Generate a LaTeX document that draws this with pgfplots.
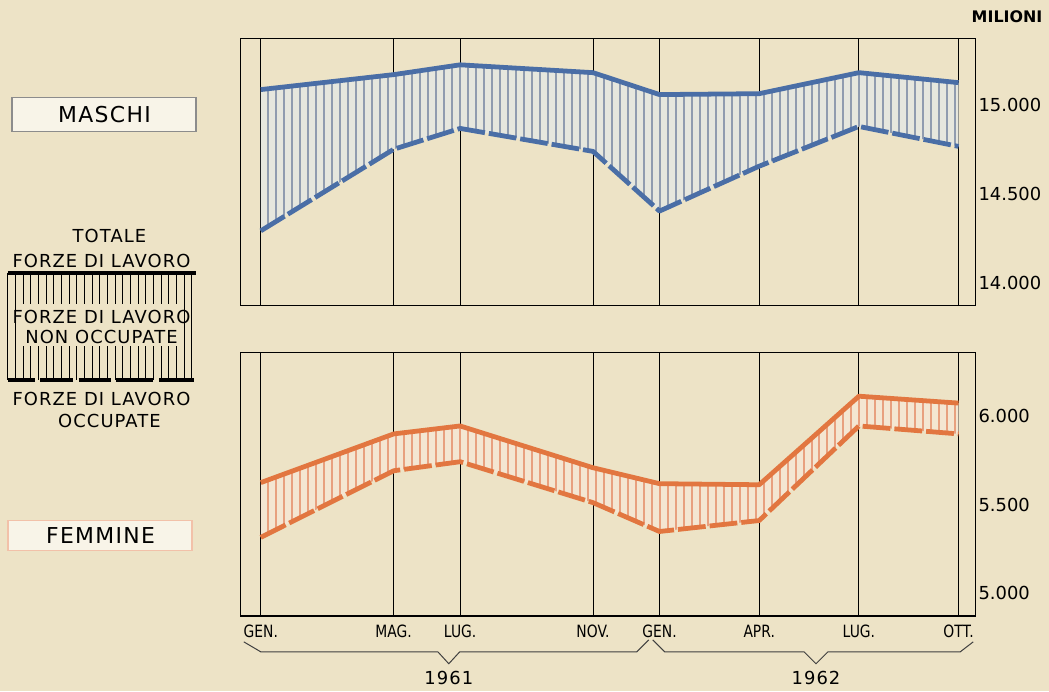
\documentclass[border=0pt]{standalone}
\usepackage{fontspec}
\setmainfont{DejaVu Sans}
\newfontfamily\lettering[LetterSpace=6]{DejaVu Sans}
\newfontfamily\narrow[FakeStretch=0.82]{DejaVu Sans}
\usepackage{pgfplots}
\pgfplotsset{compat=1.18}
\usepgfplotslibrary{fillbetween}
\usetikzlibrary{patterns.meta}

\definecolor{paper}{RGB}{237,227,198}
\definecolor{mblue}{RGB}{74,110,166}
\definecolor{mbluehatch}{RGB}{98,116,150}
\definecolor{mbluefill}{RGB}{230,231,222}
\definecolor{forange}{RGB}{226,118,64}
\definecolor{forangehatch}{RGB}{226,124,84}
\definecolor{forangefill}{RGB}{244,230,210}

% months from Jan 1961; up = totale forze di lavoro, lo = occupate (thousands)
\pgfplotstableread{
m up lo
0 15084 14291
4 15168 14749
6 15223 14866
10 15179 14737
12 15056 14402
15 15061 14654
18 15179 14877
21 15123 14765
}\maschi

\pgfplotstableread{
m up lo
0 5624 5315
4 5899 5691
6 5944 5742
10 5708 5511
12 5618 5348
15 5612 5410
18 6112 5944
21 6073 5899
}\femmine

\pgfplotsset{
  panel/.style={
    scale only axis, width=369pt,
    xmin=-0.6, xmax=21.5,
    xtick={0,4,6,10,12,15,18,21},
    xmajorgrids, grid style={black, line width=0.5pt},
    major tick length=0pt,
    axis line style={black, line width=0.6pt},
    scaled y ticks=false,
    yticklabel pos=right,
    yticklabel style={font=\fontsize{9}{10}\selectfont, inner sep=1pt, xshift=0.5pt},
    xticklabel style={font=\narrow\fontsize{8.5}{9}\selectfont, yshift=-1pt},
  },
  upper/.style={line width=2.4pt, line join=round},
  lower/.style={line width=2.4pt, line join=round, dash pattern=on 14pt off 2pt},
  hatch/.style={pattern={Lines[angle=90,distance=4pt,line width=0.6pt]}, draw=none},
}

\pagecolor{paper}
\begin{document}
\begin{tikzpicture}
\path (0,0) rectangle (524.5pt,-345.5pt);

% MASCHI
\begin{axis}[panel, at={(121pt,-153.5pt)}, anchor=south west,
  height=134pt, ymin=13872, ymax=15369,
  xticklabels={},
  ytick={14000,14500,15000}, yticklabels={14.000,14.500,15.000}]
\addplot[draw=none, name path=mu] table[x=m,y=up]{\maschi};
\addplot[draw=none, name path=ml] table[x=m,y=lo]{\maschi};
\addplot[fill=mbluefill, draw=none] fill between[of=mu and ml];
\addplot[hatch, pattern color=mbluehatch] fill between[of=mu and ml];
\addplot[mblue, upper] table[x=m,y=up]{\maschi};
\addplot[mblue, lower] table[x=m,y=lo]{\maschi};
\end{axis}

% FEMMINE
\begin{axis}[panel, at={(121pt,-309.5pt)}, anchor=south west,
  height=132.5pt, ymin=4871, ymax=6360,
  xticklabels={GEN.,MAG.,LUG.,NOV.,GEN.,APR.,LUG.,OTT.},
  ytick={5000,5500,6000}, yticklabels={5.000,5.500,6.000}]
\addplot[draw=none, name path=fu] table[x=m,y=up]{\femmine};
\addplot[draw=none, name path=fl] table[x=m,y=lo]{\femmine};
\addplot[fill=forangefill, draw=none] fill between[of=fu and fl];
\addplot[hatch, pattern color=forangehatch] fill between[of=fu and fl];
\addplot[forange, upper] table[x=m,y=up]{\femmine};
\addplot[forange, lower] table[x=m,y=lo]{\femmine};
\end{axis}

\node[font=\bfseries\fontsize{8}{9}\selectfont] at (506pt,-8.5pt) {MILIONI};

% year braces
\draw[black!75, line width=0.5pt] (122.5pt,-322.5pt) -- (131pt,-327.5pt) -- (220pt,-327.5pt)
  -- (225.5pt,-333.5pt) -- (231pt,-327.5pt) -- (320pt,-327.5pt) -- (326pt,-321.5pt);
\draw[black!75, line width=0.5pt] (328pt,-321.5pt) -- (334pt,-327.5pt) -- (404pt,-327.5pt)
  -- (410pt,-333.5pt) -- (416pt,-327.5pt) -- (482.5pt,-327.5pt) -- (489pt,-322.5pt);
\node[font=\lettering\fontsize{9}{10}\selectfont] at (225.5pt,-340.5pt) {1961};
\node[font=\lettering\fontsize{9}{10}\selectfont] at (410pt,-340.5pt) {1962};

% key boxes
\draw[black!45, fill=paper!40!white, line width=0.6pt] (6pt,-49pt) rectangle (98.5pt,-66pt);
\node[font=\lettering\fontsize{11}{12}\selectfont] at (52.5pt,-57.5pt) {MASCHI};
\draw[forange!45, fill=paper!40!white, line width=0.6pt] (4pt,-261.5pt) rectangle (96.5pt,-276.5pt);
\node[font=\lettering\fontsize{11}{12}\selectfont] at (50.5pt,-269pt) {FEMMINE};

% legend diagram
\begin{scope}[font=\lettering\fontsize{9}{10}\selectfont]
\node at (55pt,-118.5pt) {TOTALE};
\node at (51pt,-131pt) {FORZE\ DI\ LAVORO};
\foreach \i in {0,...,24} {
  \draw[black, line width=0.5pt] ({4pt+\i*3.85pt},-137pt) -- ({4pt+\i*3.85pt},-191pt);
}
\fill[paper] (10pt,-152.5pt) rectangle (91pt,-174pt);
\draw[black, line width=2pt] (4pt,-137pt) -- (98.5pt,-137pt);
\foreach \a/\b in {4/17.5,20/36.5,39.5/56,58.5/77,80/97.5} {
  \draw[black, line width=2pt] (\a pt,-191pt) -- (\b pt,-191pt);
}
\node at (51pt,-159.5pt) {FORZE\ DI\ LAVORO};
\node at (51pt,-169.5pt) {NON OCCUPATE};
\node at (51pt,-200.5pt) {FORZE\ DI\ LAVORO};
\node at (55pt,-211.5pt) {OCCUPATE};
\end{scope}
\end{tikzpicture}
\end{document}
